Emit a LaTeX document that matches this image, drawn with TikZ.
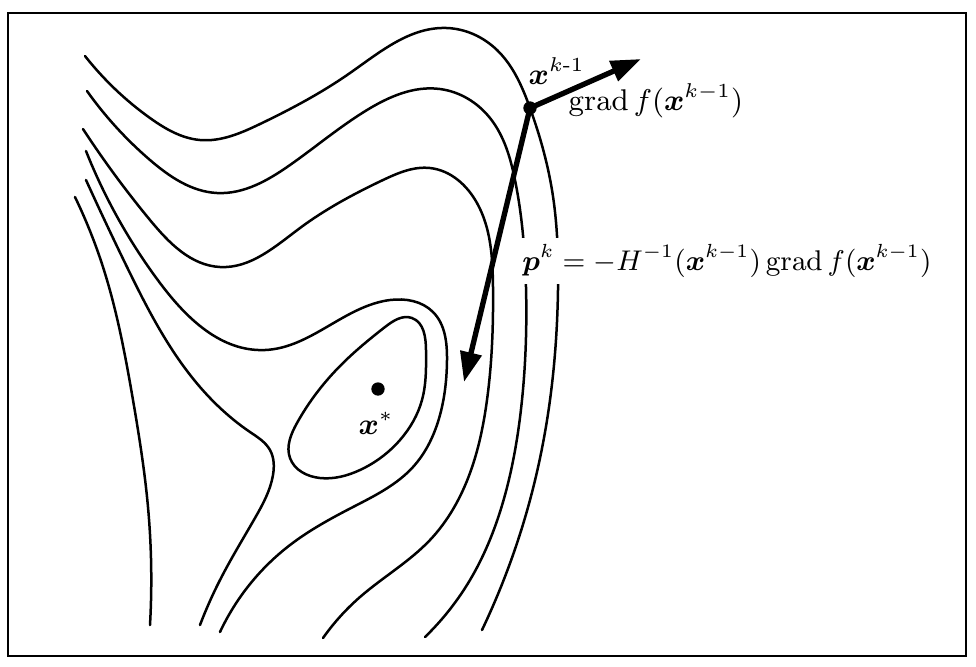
\documentclass[tikz,border=0pt]{standalone}
\usepackage{amsmath,bm}
\usetikzlibrary{arrows.meta,hobby}
\begin{document}
\begin{tikzpicture}[x=0.3pt,y=-0.3pt,
  contour/.style={line width=0.75pt, line cap=round, line join=round, use Hobby shortcut},
  bigarrow/.style={line width=1.6pt, -{Triangle[length=9pt,width=6.3pt]}},
  dotnode/.style={circle, fill=black, inner sep=0pt, minimum size=4pt},
  lab/.style={inner sep=0pt, font=\fontsize{9}{11}\selectfont}]
\useasboundingbox (0,0) rectangle (976,666);
\draw[line width=0.6pt] (8,13) rectangle (966,656);
% contour lines
\draw[contour] (85,56) .. (150,118) .. (200,140) .. (260,124) .. (350,73) .. (447,28) .. (497,50) .. (530,108) .. (552,190) .. (558,290) .. (550,400) .. (530,500) .. (482,630);
\draw[contour] (87,91) .. (150,160) .. (217,193) .. (290,165) .. (367,110) .. (440,89) .. (490,118) .. (515,180) .. (526,287) .. (522,400) .. (505,495) .. (470,580) .. (425,637);
\draw[contour] (83,129) .. (150,220) .. (220,267) .. (300,228) .. (383,180) .. (430,168) .. (477,203) .. (493,287) .. (487,400) .. (470,473) .. (430,540) .. (360,597) .. (323,638);
\draw[contour] (86,151) .. (160,283) .. (265,350) .. (390,300) .. (433,312) .. (447,360) .. (440,415) .. (413,467) .. (353,507) .. (290,545) .. (220,632);
\draw[contour] (86,180) .. (127,267) .. (200,387) .. (250,432) .. (270,450) .. (273,475) .. (255,518) .. (220,580) .. (200,625);
\draw[contour] (75,197) .. (103,267) .. (133,400) .. (148,507) .. (150,625);
\draw[contour, closed=true] (412,318) .. (426,350) .. (422,400) .. (400,440) .. (360,470) .. (320,478) .. (290,458) .. (297,423) .. (340,366) .. (385,327);
% points
\node[dotnode] (xk) at (530,108) {};
\node[dotnode] (xs) at (378,389) {};
\coordinate (gtip) at (641,59);
\coordinate (ptip) at (464,382);
% labels
\node[lab, anchor=base west] (lxk) at (528,84) {$\bm{x}^{k\text{-}1}$};
\node[lab, anchor=base west] (lgrad) at (568,110) {$\operatorname{grad} f(\bm{x}^{k-1})$};
\node[lab, anchor=base west] (lxs) at (358,434) {$\bm{x}^{*}$};
\node[lab, anchor=base west, fill=white, inner sep=2pt] (lp) at (515,270) {\scalebox{0.95}{$\bm{p}^{k} = -H^{-1}(\bm{x}^{k-1})\operatorname{grad} f(\bm{x}^{k-1})$}};
% arrows
\draw[bigarrow] (xk.center) -- (gtip);
\draw[bigarrow] (xk.center) -- (ptip);
\end{tikzpicture}
\end{document}
